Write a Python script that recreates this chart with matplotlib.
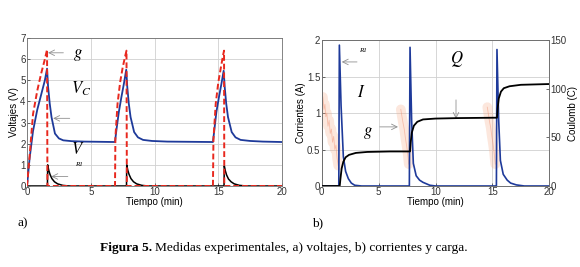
import matplotlib
matplotlib.use('Agg')
import matplotlib.pyplot as plt

plt.rcParams['font.family'] = ['Liberation Sans', 'DejaVu Sans']
plt.rcParams['mathtext.fontset'] = 'stix'

# ---- panel a) voltages (V) vs time (min)
t_vc = [0, 0.2, 0.47, 0.8, 1.1, 1.4, 1.57, 1.65, 1.78, 1.92, 2.19, 2.5, 2.84, 3.5, 4.5, 6.9,
        7.0, 7.2, 7.4, 7.6, 7.78, 7.86, 7.98, 8.12, 8.4, 8.7, 9.1, 9.8, 11, 14.58,
        14.68, 14.85, 15.05, 15.25, 15.42, 15.5, 15.62, 15.76, 16.05, 16.35, 16.75, 17.5, 18.5, 20]
v_c = [0, 1.3, 2.6, 3.6, 4.3, 5.0, 5.55, 4.7, 3.9, 3.26, 2.48, 2.25, 2.16, 2.12, 2.1, 2.08,
       2.6, 3.5, 4.2, 4.85, 5.5, 4.7, 3.9, 3.26, 2.55, 2.3, 2.18, 2.13, 2.1, 2.08,
       2.6, 3.5, 4.2, 4.85, 5.45, 4.7, 3.9, 3.26, 2.55, 2.3, 2.18, 2.13, 2.1, 2.08]

t_g = [0, 0.2, 0.47, 0.8, 1.1, 1.4, 1.57, 1.6, 6.9, 6.93, 7.1, 7.3, 7.5, 7.7, 7.8, 7.83,
       14.58, 14.62, 14.8, 15.0, 15.2, 15.38, 15.45, 15.47, 20]
v_g = [0, 1.4, 3.4, 4.5, 5.3, 6.0, 6.45, 0, 0, 2.3, 3.9, 4.9, 5.6, 6.15, 6.4, 0,
       0, 2.2, 3.9, 4.9, 5.6, 6.2, 6.4, 0, 0]

t_vr = [0, 1.6, 1.62, 1.7, 1.8, 1.95, 2.15, 2.4, 2.8, 3.3, 7.8, 7.82, 7.9, 8.0, 8.15, 8.35,
        8.6, 9.0, 9.5, 15.45, 15.47, 15.55, 15.65, 15.8, 16.0, 16.25, 16.65, 17.2, 20]
v_r = [0, 0, 1.0, 0.75, 0.55, 0.35, 0.2, 0.1, 0.03, 0, 0, 1.0, 0.75, 0.55, 0.35, 0.2,
       0.1, 0.03, 0, 0, 0.95, 0.72, 0.52, 0.33, 0.2, 0.1, 0.03, 0, 0]

# ---- panel b) currents (A) and charge (C)
t_ir = [0, 1.5, 1.55, 1.7, 1.9, 2.1, 2.34, 2.6, 2.9, 3.5, 7.7, 7.76, 7.9, 8.05, 8.3, 8.6,
        8.9, 9.5, 10, 15.35, 15.4, 15.55, 15.7, 15.95, 16.3, 16.6, 17.1, 17.8, 20]
i_r = [0, 0, 1.93, 1.1, 0.4, 0.2, 0.1, 0.04, 0.01, 0, 0, 1.9, 0.9, 0.31, 0.14, 0.08,
       0.05, 0.01, 0, 0, 1.87, 0.9, 0.35, 0.16, 0.08, 0.04, 0.015, 0, 0]

t_ig = [0.1, 0.2, 0.28, 0.36, 0.45, 0.55, 0.65, 0.75, 0.85, 0.95, 1.05, 1.15, 1.25, 1.35, 1.45,
        6.95, 7.05, 7.15, 7.25, 7.35, 7.45, 7.55, 7.65,
        14.55, 14.65, 14.75, 14.85, 14.95, 15.05, 15.15, 15.25]
i_g = [1.22, 1.05, 1.12, 0.95, 1.0, 0.82, 0.9, 0.72, 0.78, 0.6, 0.68, 0.5, 0.56, 0.38, 0.28,
       1.05, 0.95, 0.86, 0.78, 0.66, 0.56, 0.45, 0.3,
       1.08, 0.98, 0.88, 0.8, 0.68, 0.58, 0.46, 0.3]
seg_ig = [(0, 15), (15, 23), (23, 31)]

t_q = [0, 1.58, 1.65, 1.75, 1.9, 2.1, 2.4, 3.0, 4.0, 6.0, 7.76, 7.82, 7.92, 8.1, 8.4, 8.9,
       10, 12, 15.4, 15.46, 15.56, 15.75, 16.0, 16.5, 17.5, 20]
q = [0, 0, 8, 18, 25, 29.5, 32, 34, 35, 35.5, 35.5, 45, 55, 62, 66, 68.4,
     69.3, 69.8, 70.2, 80, 90, 97, 100.5, 102.5, 104, 104.8]

xticks = [0, 5, 10, 15, 20]

fig = plt.figure(figsize=(5.8, 2.67), dpi=100)
ax1 = fig.add_axes([0.0466, 0.3034, 0.4397, 0.5543])
ax2 = fig.add_axes([0.5547, 0.3034, 0.3924, 0.5466])

arrow = dict(arrowstyle='->', color='#909090', lw=0.6, shrinkA=0, shrinkB=0)

def style(ax):
    ax.grid(True, color='#d0d0d0', lw=0.6)
    ax.set_axisbelow(True)
    for s in ax.spines.values():
        s.set_color('#707070')
        s.set_linewidth(0.6)
    ax.tick_params(labelsize=7, length=2, width=0.5, direction='in', pad=1, colors='#333333')
    ax.set_xlim(0, 20)
    ax.set_xticks(xticks)
    ax.set_xlabel('Tiempo (min)', fontsize=7, labelpad=0)

# a)
style(ax1)
ax1.plot(t_vc, v_c, color='#1e3a9a', lw=1.3, zorder=3)
ax1.plot(t_g, v_g, color='#e8281e', lw=1.4, ls=(0, (3, 1.5)), zorder=4)
ax1.plot(t_vr, v_r, color='black', lw=1.1, zorder=3)
ax1.set_ylim(0, 7)
ax1.set_yticks(range(8))
ax1.set_ylabel('Voltajes (V)', fontsize=7, labelpad=1)
ax1.annotate('', xy=(1.65, 6.3), xytext=(2.85, 6.3), arrowprops=arrow)
ax1.annotate('', xy=(2.05, 3.2), xytext=(3.35, 3.2), arrowprops=arrow)
ax1.annotate('', xy=(1.9, 0.45), xytext=(3.2, 0.45), arrowprops=arrow)
ax1.text(3.6, 6.2, '$g$', fontsize=12, ha='left', va='center')
ax1.text(3.45, 4.6, '$V_C$', fontsize=12, ha='left', va='center')
ax1.text(3.45, 1.75, '$V$', fontsize=12, ha='left', va='center')
ax1.text(3.75, 1.0, 'R1', fontsize=5, style='italic', family='Liberation Serif', ha='left', va='center')

# b)
style(ax2)
for a, b in seg_ig:
    ax2.plot(t_ig[a:b], i_g[a:b], color='#f6b090', lw=7, alpha=0.3, zorder=2,
             solid_capstyle='round')
    ax2.plot(t_ig[a:b], i_g[a:b], color='#f08a6a', lw=0.6, alpha=0.45, zorder=2)
ax2.plot(t_ir, i_r, color='#1e3a9a', lw=1.2, zorder=3)
ax2.set_ylim(0, 2)
ax2.set_yticks([0, 0.5, 1, 1.5, 2])
ax2.set_yticklabels(['0', '0.5', '1', '1.5', '2'])
ax2.set_ylabel('Corrientes (A)', fontsize=7, labelpad=1)

ax3 = ax2.twinx()
ax3.plot(t_q, q, color='black', lw=1.3, zorder=3)
ax3.set_ylim(0, 150)
ax3.set_yticks([0, 50, 100, 150])
ax3.tick_params(labelsize=7, length=2, width=0.5, direction='in', pad=1, colors='#333333')
for s in ax3.spines.values():
    s.set_color('#707070')
    s.set_linewidth(0.6)
ax3.set_ylabel('Coulomb (C)', fontsize=7, labelpad=1)

ax2.annotate('', xy=(1.76, 1.70), xytext=(3.1, 1.70), arrowprops=arrow)
ax2.annotate('', xy=(6.7, 0.81), xytext=(5.1, 0.81), arrowprops=arrow)
ax2.annotate('', xy=(11.8, 0.92), xytext=(11.8, 1.18), arrowprops=arrow)
ax2.text(3.3, 1.86, 'R1', fontsize=5, style='italic', family='Liberation Serif', ha='left', va='center')
ax2.text(3.5, 1.29, '$I$', fontsize=12, ha='center', va='center')
ax2.text(4.1, 0.72, '$g$', fontsize=12, ha='center', va='center')
ax2.text(11.9, 1.74, '$Q$', fontsize=12, ha='center', va='center')

# labels and caption
fig.text(0.031, 0.165, 'a)', fontsize=9.5, family='Liberation Serif', va='center')
fig.text(0.538, 0.165, 'b)', fontsize=9.5, family='Liberation Serif', va='center')
bold = fig.text(0.172, 0.071, 'Figura 5.', fontsize=9.6, family='Liberation Serif',
                weight='bold', va='center')
fig.canvas.draw()
bb = bold.get_window_extent().transformed(fig.transFigure.inverted())
fig.text(bb.x1 + 0.006, 0.071, 'Medidas experimentales, a) voltajes, b) corrientes y carga.',
         fontsize=9.6, family='Liberation Serif', va='center')

fig.savefig('out.png', dpi=100)
